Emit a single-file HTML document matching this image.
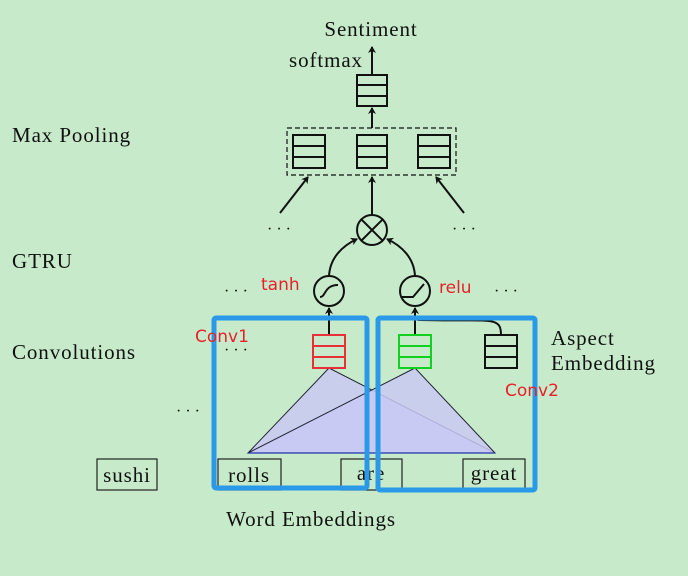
<!DOCTYPE html>
<html><head><meta charset="utf-8"><style>
html,body{margin:0;padding:0;background:#c7ebca;}
svg{display:block}
.s{font-family:"Liberation Serif",serif;font-size:21px;letter-spacing:0.9px;fill:#111}
.d{font-family:"Liberation Serif",serif;font-size:16px;fill:#111}
.r{font-family:"DejaVu Sans","Liberation Sans",sans-serif;font-size:17px;fill:#e8202a}
</style></head><body>
<svg width="688" height="576" viewBox="0 0 688 576" xmlns="http://www.w3.org/2000/svg">
<defs><marker id="a" markerWidth="8" markerHeight="8" refX="6" refY="4" orient="auto" markerUnits="userSpaceOnUse"><path d="M0,0 L7,4 L0,8 L2,4 Z" fill="#111"/></marker></defs>
<rect width="688" height="576" fill="#c7ebca"/>
<text class="s" x="371" y="36" text-anchor="middle">Sentiment</text>
<text class="s" x="289" y="67">softmax</text>
<text class="s" x="12" y="142">Max Pooling</text>
<text class="s" x="12" y="268">GTRU</text>
<text class="s" x="12" y="359">Convolutions</text>
<text class="s" x="551" y="345">Aspect</text>
<text class="s" x="551" y="370">Embedding</text>
<text class="s" x="311" y="526" text-anchor="middle">Word Embeddings</text>
<g stroke="#111" stroke-width="2" fill="none">
<line x1="372" y1="75" x2="372" y2="47" marker-end="url(#a)"/>
<rect x="357" y="75" width="30" height="31"/><line x1="357" y1="85" x2="387" y2="85"/><line x1="357" y1="96" x2="387" y2="96"/>
<line x1="372" y1="128" x2="372" y2="108" marker-end="url(#a)"/>
<rect x="293" y="135" width="32" height="33"/><line x1="293" y1="146" x2="325" y2="146"/><line x1="293" y1="157" x2="325" y2="157"/>
<rect x="357" y="135" width="30" height="33"/><line x1="357" y1="146" x2="387" y2="146"/><line x1="357" y1="157" x2="387" y2="157"/>
<rect x="418" y="135" width="32" height="33"/><line x1="418" y1="146" x2="450" y2="146"/><line x1="418" y1="157" x2="450" y2="157"/>
<line x1="280" y1="213" x2="308" y2="177" marker-end="url(#a)"/>
<line x1="372" y1="214" x2="372" y2="177" marker-end="url(#a)"/>
<line x1="464" y1="213" x2="436" y2="177" marker-end="url(#a)"/>
<circle cx="372" cy="230" r="15"/><line x1="361" y1="219" x2="383" y2="241"/><line x1="383" y1="219" x2="361" y2="241"/>
<circle cx="329" cy="291" r="15"/><path d="M320,297 C326,297 324,285 338,285"/>
<circle cx="415" cy="291" r="15"/><path d="M402,297 L413,297 L424,284"/>
<path d="M329,276 C330,258 342,246 357,239" marker-end="url(#a)"/>
<path d="M415,276 C414,258 402,246 387,239" marker-end="url(#a)"/>
<line x1="329" y1="335" x2="329" y2="308" marker-end="url(#a)"/>
<line x1="415" y1="335" x2="415" y2="308" marker-end="url(#a)"/>
<path d="M501,335 C501,315 490,322 420,320 C416,320 415,318 415,316"/>
<rect x="485" y="335" width="32" height="33"/><line x1="485" y1="346" x2="517" y2="346"/><line x1="485" y1="357" x2="517" y2="357"/>
</g>
<rect x="287" y="128" width="169" height="47" fill="none" stroke="#111" stroke-width="1.2" stroke-dasharray="5,3"/>
<g fill="#c9c9f3" fill-opacity="0.85" stroke="#223" stroke-width="1">
<polygon points="329,368 248,453 495,453"/>
<polygon points="415,368 248,453 495,453"/>
</g>
<line x1="248" y1="453" x2="495" y2="453" stroke="#2233aa" stroke-width="1.2"/>
<g fill="none" stroke-width="2">
<rect x="313" y="335" width="32" height="33" stroke="#e8303a"/><line x1="313" y1="346" x2="345" y2="346" stroke="#e8303a"/><line x1="313" y1="357" x2="345" y2="357" stroke="#e8303a"/>
<rect x="399" y="335" width="32" height="33" stroke="#10d020"/><line x1="399" y1="346" x2="431" y2="346" stroke="#10d020"/><line x1="399" y1="357" x2="431" y2="357" stroke="#10d020"/>
</g>
<g fill="none" stroke="#222" stroke-width="1.2">
<rect x="97" y="459" width="60" height="31"/>
<rect x="218" y="459" width="63" height="31"/>
<rect x="341" y="459" width="61" height="31"/>
<rect x="463" y="459" width="62" height="31"/>
</g>
<text class="s" x="127" y="482" text-anchor="middle" font-size="20">sushi</text>
<text class="s" x="249" y="482" text-anchor="middle" font-size="20">rolls</text>
<text class="s" x="371" y="480" text-anchor="middle" font-size="20">are</text>
<text class="s" x="494" y="480" text-anchor="middle" font-size="20">great</text>
<g fill="none" stroke="#2a9ae8" stroke-width="5">
<rect x="214" y="318" width="153" height="170" rx="2"/>
<rect x="378" y="318" width="157" height="172" rx="2"/>
</g>
<text x="267" y="234" class="d">· · ·</text><text x="452" y="234" class="d">· · ·</text>
<text x="224" y="296" class="d">· · ·</text><text x="494" y="296" class="d">· · ·</text>
<text x="224" y="355" class="d">· · ·</text><text x="176" y="416" class="d">· · ·</text>
<text class="r" x="261" y="290">tanh</text>
<text class="r" x="439" y="293">relu</text>
<text class="r" x="195" y="342">Conv1</text>
<text class="r" x="505" y="396">Conv2</text>
</svg>
</body></html>
